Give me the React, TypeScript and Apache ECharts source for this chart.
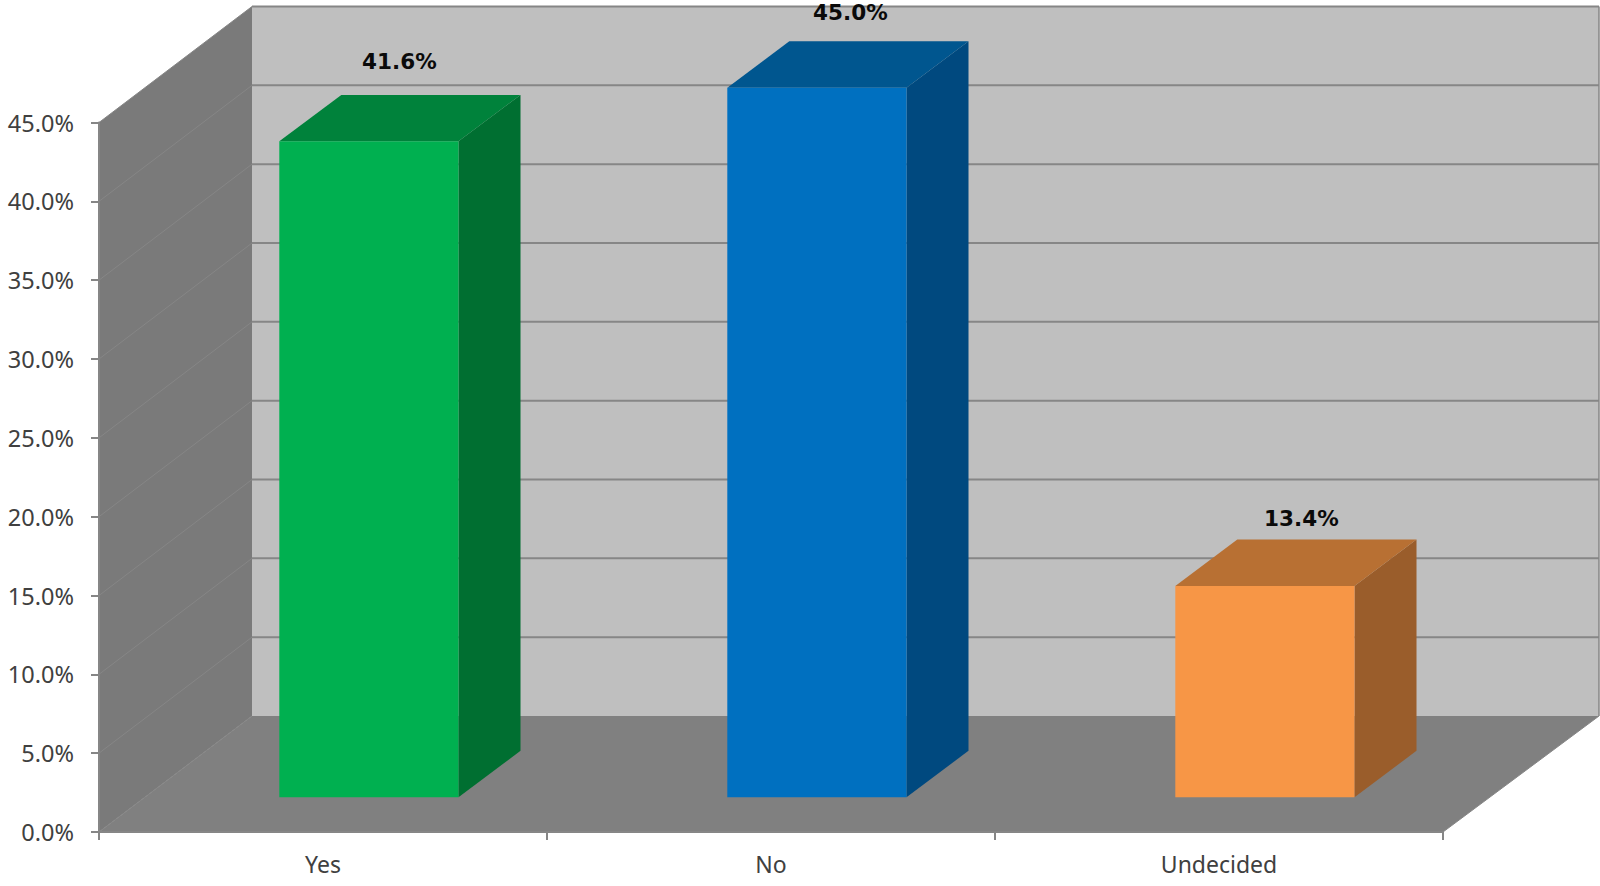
import React, { useEffect, useRef } from "react";
import * as echarts from "echarts";

const categories = ["Yes", "No", "Undecided"];
const shares = [41.6, 45.0, 13.4];
const labelTexts = ["41.6%", "45.0%", "13.4%"];
const frontColors = ["#00B050", "#0070C0", "#F79646"];
const topColors = ["#00823B", "#00568F", "#B87033"];
const sideColors = ["#006F31", "#00497F", "#9A5D2B"];
const yTicks = [0, 5, 10, 15, 20, 25, 30, 35, 40, 45];

// Oblique projection of the depth axis, in pixels.
const DEPTH_X = 153;
const DEPTH_Y = 116;
// Where a column sits inside the depth of the floor, as fractions of it.
const COLUMN_FRONT = 0.3;
const COLUMN_BACK = 0.7;
const COLUMN_SIDE_X = 62;
const COLUMN_WIDTH_RATIO = 0.4;
// Per-column fine placement of the value labels (dx, dy from the top face).
const labelNudge = [
  [30.5, -79.5],
  [33.5, -75.5],
  [36.5, -67],
];

const poly = (points: number[][], fill: string, stroke?: string) => ({
  type: "polygon",
  shape: { points },
  style: stroke ? { fill, stroke, lineWidth: 1 } : { fill },
  silent: true,
});

const seg = (x1: number, y1: number, x2: number, y2: number, stroke: string, lineWidth: number) => ({
  type: "line",
  shape: { x1, y1, x2, y2 },
  style: { stroke, lineWidth, fill: "none" },
  silent: true,
});

function renderWalls(params: any, api: any) {
  const cs = params.coordSys;
  const left = cs.x;
  const right = cs.x + cs.width;
  const y0 = api.coord([0, 0])[1];
  const yTop = api.coord([0, 45])[1];
  const backLeft = left + DEPTH_X;
  const backRight = right + DEPTH_X + 3;

  const children: any[] = [
    poly([[backLeft, yTop - DEPTH_Y], [backRight, yTop - DEPTH_Y], [backRight, y0 - DEPTH_Y], [backLeft, y0 - DEPTH_Y]], "#BFBFBF"),
    poly([[left, yTop], [backLeft, yTop - DEPTH_Y], [backLeft, y0 - DEPTH_Y], [left, y0]], "#7A7A7A"),
    poly([[left, y0], [backLeft, y0 - DEPTH_Y], [backRight, y0 - DEPTH_Y], [right, y0]], "#808080"),
  ];
  for (const v of yTicks) {
    const y = api.coord([0, v])[1];
    if (v > 0) {
      children.push(seg(backLeft, y - DEPTH_Y, backRight, y - DEPTH_Y, "#868686", 2));
    }
    children.push(seg(left, y, backLeft, y - DEPTH_Y, "#868686", 1));
  }
  children.push(seg(backRight, yTop - DEPTH_Y, backRight, y0 - DEPTH_Y, "#868686", 1.5));
  children.push(seg(right, y0, backRight, y0 - DEPTH_Y, "#868686", 1));
  return { type: "group", children };
}

function renderColumn(params: any, api: any) {
  const i = params.dataIndex;
  const [cx, yValue] = api.coord([i, api.value(1)]);
  const yBase = api.coord([i, 0])[1];
  const band = api.size([1, 0])[0];
  const w = band * COLUMN_WIDTH_RATIO;
  const offX = DEPTH_X * COLUMN_FRONT;
  const offY = DEPTH_Y * COLUMN_FRONT;
  const sideX = COLUMN_SIDE_X;
  const sideY = DEPTH_Y * (COLUMN_BACK - COLUMN_FRONT);
  const x0 = cx - w / 2 + offX;
  const x1 = cx + w / 2 + offX;
  const top = yValue - offY;
  const bottom = yBase - offY;
  const [nx, ny] = labelNudge[i];
  return {
    type: "group",
    children: [
      poly([[x1, top], [x1 + sideX, top - sideY], [x1 + sideX, bottom - sideY], [x1, bottom]], sideColors[i]),
      poly([[x0, top], [x0 + sideX, top - sideY], [x1 + sideX, top - sideY], [x1, top]], topColors[i]),
      poly([[x0, top], [x1, top], [x1, bottom], [x0, bottom]], frontColors[i]),
      {
        type: "text",
        silent: true,
        style: {
          x: cx + offX + nx,
          y: top + ny,
          text: labelTexts[i],
          fill: "#0A0A0A",
          font: 'bold 21.5px "DejaVu Sans"',
          align: "center",
          verticalAlign: "middle",
        },
      },
    ],
  };
}

export default function App() {
  const ref = useRef<HTMLDivElement>(null);

  useEffect(() => {
    const chart = echarts.init(ref.current!, undefined, { renderer: "svg" });
    chart.setOption({
      animation: false,
      backgroundColor: "#FFFFFF",
      grid: { left: 99, right: 157, top: 122.5, bottom: 54 },
      xAxis: {
        type: "category",
        data: categories,
        z: 10,
        axisLine: { lineStyle: { color: "#868686", width: 2 } },
        axisTick: { show: true, length: 8, alignWithLabel: false, lineStyle: { color: "#868686", width: 2 } },
        axisLabel: { color: "#404040", fontFamily: "Noto Sans", fontSize: 23, margin: 20 },
      },
      yAxis: {
        type: "value",
        min: 0,
        max: 45,
        interval: 5,
        z: 10,
        splitLine: { show: false },
        axisLine: { show: true, lineStyle: { color: "#868686", width: 2 } },
        axisTick: { show: true, length: 8, lineStyle: { color: "#868686", width: 2 } },
        axisLabel: {
          color: "#404040",
          fontFamily: "Noto Sans",
          fontSize: 23.5,
          margin: 25,
          formatter: (v: number) => `${v.toFixed(1)}%`,
        },
      },
      series: [
        {
          type: "custom",
          name: "walls",
          clip: false,
          silent: true,
          z: 1,
          renderItem: renderWalls,
          data: [[0, 0]],
          encode: { x: 0, y: 1 },
        },
        {
          type: "custom",
          name: "share",
          clip: false,
          silent: true,
          z: 2,
          renderItem: renderColumn,
          data: shares.map((v, i) => [i, v]),
          encode: { x: 0, y: 1 },
        },
      ],
    });
    return () => chart.dispose();
  }, []);

  return <div ref={ref} style={{ position: "fixed", left: 0, top: 0, width: 1600, height: 886 }} />;
}
